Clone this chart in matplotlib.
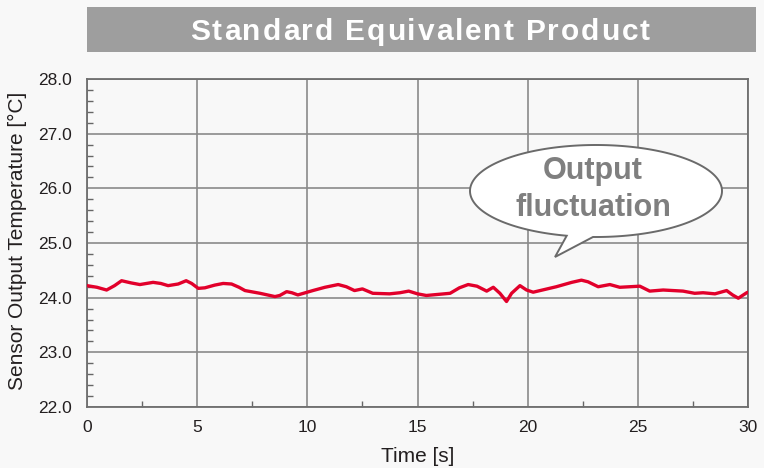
import numpy as np
import matplotlib
matplotlib.use("Agg")
import matplotlib.pyplot as plt
from matplotlib.patches import PathPatch, Rectangle
from matplotlib.path import Path
from matplotlib.ticker import MultipleLocator

plt.rcParams['font.family'] = ['Liberation Sans', 'DejaVu Sans']

title = "Standard Equivalent Product"
x_label = "Time [s]"
y_label = "Sensor Output Temperature [°C]"
bubble_lines = ["Output", "fluctuation"]

time_s = [0.0, 0.45, 0.89, 1.25, 1.57, 2.0, 2.4, 3.0, 3.35, 3.68, 4.14, 4.5, 4.75,
          5.05, 5.35, 5.8, 6.18, 6.56, 6.9, 7.17, 7.85, 8.53, 8.75, 9.06, 9.3, 9.57,
          10.25, 10.8, 11.4, 11.77, 12.14, 12.5, 12.97, 13.73, 14.2, 14.6, 15.0,
          15.4, 16.48, 16.9, 17.3, 17.7, 18.14, 18.44, 18.74, 19.04, 19.27, 19.65,
          19.95, 20.25, 21.3, 22.0, 22.44, 22.74, 23.2, 23.73, 24.18, 25.09, 25.54,
          26.15, 27.05, 27.58, 27.96, 28.5, 29.03, 29.3, 29.56, 29.94, 30.0]
temp_c = [24.22, 24.19, 24.14, 24.22, 24.31, 24.27, 24.24, 24.28, 24.26, 24.22, 24.25,
          24.31, 24.26, 24.17, 24.18, 24.23, 24.26, 24.25, 24.19, 24.13, 24.08, 24.02,
          24.04, 24.11, 24.09, 24.05, 24.13, 24.19, 24.24, 24.20, 24.13, 24.16, 24.08,
          24.07, 24.09, 24.12, 24.07, 24.04, 24.08, 24.18, 24.24, 24.21, 24.12, 24.19,
          24.08, 23.93, 24.08, 24.22, 24.14, 24.10, 24.20, 24.28, 24.32, 24.29, 24.20,
          24.24, 24.19, 24.21, 24.12, 24.14, 24.12, 24.08, 24.09, 24.07, 24.13, 24.05,
          23.99, 24.09, 24.10]

x_ticks = [0, 5, 10, 15, 20, 25, 30]
y_ticks = [22.0, 23.0, 24.0, 25.0, 26.0, 27.0, 28.0]

W, H = 764, 468
BG = "#f8f8f8"
fig = plt.figure(figsize=(W / 100, H / 100), dpi=100, facecolor=BG)


def px(x, y):
    return (x / W, 1 - y / H)


L, R, T, B = 87, 748, 79, 407
ax = fig.add_axes([L / W, 1 - B / H, (R - L) / W, (B - T) / H])
ax.set_facecolor(BG)
ax.plot(time_s, temp_c, color="#e2002b", lw=2.4, solid_joinstyle="round",
        solid_capstyle="round", zorder=3)
ax.set_xlim(0, 30)
ax.set_ylim(22, 28)
ax.set_xticks(x_ticks)
ax.set_yticks(y_ticks)
ax.set_xticklabels([str(v) for v in x_ticks])
ax.set_yticklabels([f"{v:.1f}" for v in y_ticks])
ax.xaxis.set_minor_locator(MultipleLocator(2.5))
ax.yaxis.set_minor_locator(MultipleLocator(0.2))
ax.grid(True, which="major", color="#8a8a8a", lw=1.2)
ax.tick_params(which="major", length=0, labelsize=12.5, colors="#231f20")
ax.tick_params(axis="y", which="major", pad=11)
ax.tick_params(axis="x", which="major", pad=9)
ax.tick_params(which="minor", direction="in", length=4, width=1, color="#666666")
ax.tick_params(axis="x", which="minor", top=False)
ax.tick_params(axis="y", which="minor", right=False)
for s in ax.spines.values():
    s.set_color("#6e6e6e")
    s.set_linewidth(1.3)

fig.text(*px(418, 456), x_label, ha="center", va="center", fontsize=15, color="#231f20")
fig.text(*px(17, 241), y_label, ha="center", va="center", rotation=90, fontsize=15,
         color="#231f20")

# title box
x0, y0 = px(87, 52)
x1, y1 = px(756, 7)
fig.patches.append(Rectangle((x0, y0), x1 - x0, y1 - y0, transform=fig.transFigure,
                             facecolor="#9e9e9e", edgecolor="none"))

# letter-spaced title
renderer = fig.canvas.get_renderer()
fs = 21.5


def width_of(s):
    if not s:
        return 0.0
    t = fig.text(0, 0, s, fontsize=fs, fontweight="bold")
    w = t.get_window_extent(renderer).width
    t.remove()
    return w


natural = width_of(title)
target = 460.0
spacing = max(0.0, (target - natural) / (len(title) - 1))
start = 190.0
for i, ch in enumerate(title):
    if ch == " ":
        continue
    xoff = (width_of(title[:i] + "x") - width_of("x")) if i > 0 else 0.0
    fig.text(*px(start + xoff + i * spacing, 40), ch, fontsize=fs, fontweight="bold",
             color="white", ha="left", va="baseline")

# speech bubble
cx, cy, a, b = 596.0, 191.0, 126.0, 46.0
thL = np.degrees(np.arccos((566.7 - cx) / a))
thR = np.degrees(np.arccos((593.0 - cx) / a))
th = np.radians(np.linspace(thR, thL - 360, 300))
pts = [px(cx + a * np.cos(t), cy + b * np.sin(t)) for t in th]
pts.append(px(555, 257))
pts.append(pts[0])
codes = [Path.MOVETO] + [Path.LINETO] * (len(pts) - 2) + [Path.CLOSEPOLY]
fig.patches.append(PathPatch(Path(pts, codes), transform=fig.transFigure,
                             facecolor="white", edgecolor="#6a6a6a", lw=1.4, zorder=5))
fig.text(*px(593, 171), bubble_lines[0], ha="center", va="center", fontsize=22,
         fontweight="bold", color="#7f7f7f", zorder=6)
fig.text(*px(593, 208), bubble_lines[1], ha="center", va="center", fontsize=22,
         fontweight="bold", color="#7f7f7f", zorder=6)

fig.savefig("out.png", dpi=100, facecolor=BG)
